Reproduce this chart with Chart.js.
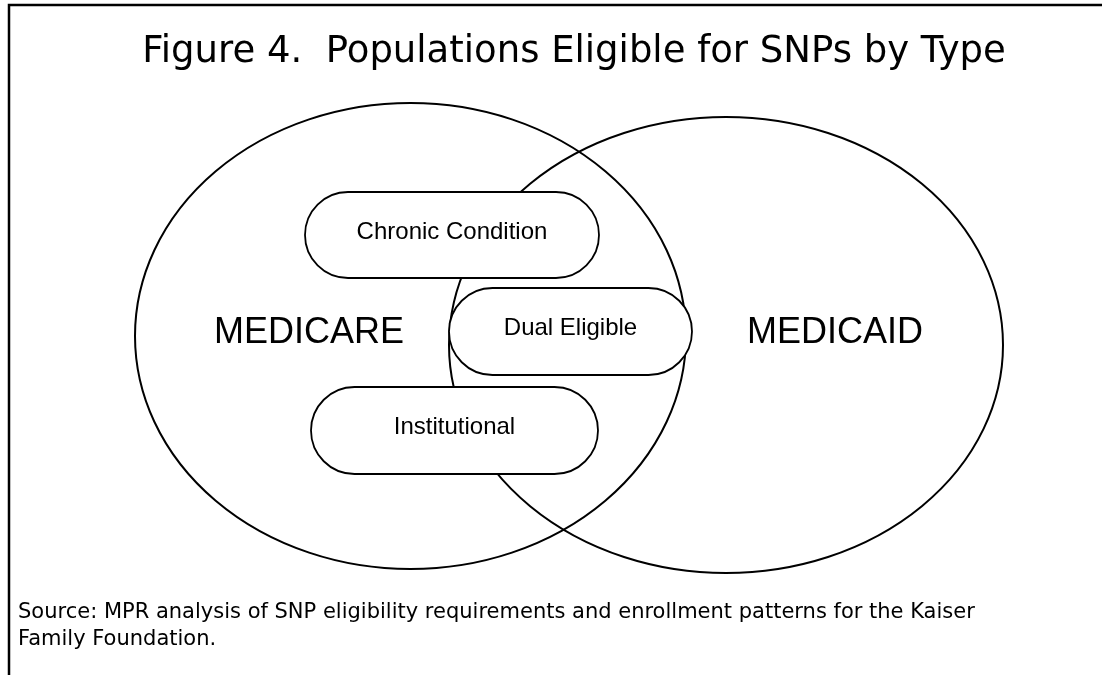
<!DOCTYPE html>
<html lang="en">
<head>
<meta charset="UTF-8">
<meta name="viewport" content="width=device-width, initial-scale=1.0">
<title>Figure 4. Populations Eligible for SNPs by Type</title>
<script src="https://cdn.jsdelivr.net/npm/chart.js"></script>
<style>
    html, body { margin: 0; padding: 0; background: #fff; }
    #wrap { width: 1102px; height: 675px; }
</style>
</head>
<body>
<div id="wrap"><canvas id="venn"></canvas></div>
<script>
// the two populations (ellipses), in units of the hidden x/y axes
const setNames = ['MEDICARE', 'MEDICAID'];
const setCenterX = [410.5, 726];
const setCenterY = [336, 345];
const setRadiusX = [275.5, 277];
const setRadiusY = [233, 228];
const setLabelX = [309, 835];
const setLabelY = [333, 333];

// SNP types (rounded boxes)
const snpTypes = ['Chronic Condition', 'Dual Eligible', 'Institutional'];
const boxLeft = [305, 449, 311];
const boxRight = [599, 692, 598];
const boxTop = [192, 288, 387];
const boxBottom = [278, 375, 474];

const titleText = 'Figure 4.  Populations Eligible for SNPs by Type';
const sourceLines = [
    'Source: MPR analysis of SNP eligibility requirements and enrollment patterns for the Kaiser',
    'Family Foundation.'
];

// draws the whole figure through the chart's scales
const vennPlugin = {
    id: 'venn',
    afterDraw(chart) {
        const ctx = chart.ctx;
        const sx = chart.scales.x, sy = chart.scales.y;
        const px = v => sx.getPixelForValue(v);
        const py = v => sy.getPixelForValue(v);

        ctx.save();
        ctx.strokeStyle = '#000';
        ctx.fillStyle = '#000';

        // frame (top and left only)
        ctx.lineWidth = 2.5;
        ctx.beginPath();
        ctx.moveTo(px(9), py(675));
        ctx.lineTo(px(9), py(5));
        ctx.lineTo(px(1102), py(5));
        ctx.stroke();

        // title
        ctx.font = '37px "DejaVu Sans"';
        ctx.textAlign = 'center';
        ctx.textBaseline = 'alphabetic';
        ctx.fillText(titleText, px(574), py(62));

        // ellipses
        ctx.lineWidth = 2;
        setNames.forEach((name, i) => {
            const cx = px(setCenterX[i]), cy = py(setCenterY[i]);
            const rx = Math.abs(px(setCenterX[i] + setRadiusX[i]) - cx);
            const ry = Math.abs(py(setCenterY[i] + setRadiusY[i]) - cy);
            ctx.beginPath();
            ctx.ellipse(cx, cy, rx, ry, 0, 0, Math.PI * 2);
            ctx.stroke();
        });

        ctx.font = '36px "Liberation Sans", Arial';
        ctx.textBaseline = 'middle';
        setNames.forEach((name, i) => {
            ctx.fillText(name, px(setLabelX[i]), py(setLabelY[i]));
        });

        // rounded boxes
        ctx.lineWidth = 1.8;
        snpTypes.forEach((name, i) => {
            const x0 = px(boxLeft[i]), x1 = px(boxRight[i]);
            const y0 = py(boxTop[i]), y1 = py(boxBottom[i]);
            const r = (y1 - y0) / 2;
            ctx.beginPath();
            ctx.moveTo(x0 + r, y0);
            ctx.lineTo(x1 - r, y0);
            ctx.arc(x1 - r, y0 + r, r, -Math.PI / 2, Math.PI / 2);
            ctx.lineTo(x0 + r, y1);
            ctx.arc(x0 + r, y0 + r, r, Math.PI / 2, Math.PI * 1.5);
            ctx.closePath();
            ctx.fillStyle = '#fff';
            ctx.fill();
            ctx.stroke();
            ctx.fillStyle = '#000';
            ctx.font = '24px "Liberation Sans", Arial';
            ctx.fillText(name, (x0 + x1) / 2, (y0 + y1) / 2 - 3);
        });

        // source note
        ctx.font = '21px "DejaVu Sans"';
        ctx.textAlign = 'left';
        ctx.textBaseline = 'alphabetic';
        sourceLines.forEach((line, i) => {
            ctx.fillText(line, px(18), py(618 + i * 27));
        });

        ctx.restore();
    }
};

new Chart(document.getElementById('venn'), {
    type: 'scatter',
    data: { datasets: [] },
    options: {
        responsive: true,
        maintainAspectRatio: false,
        animation: false,
        layout: { padding: 0 },
        scales: {
            x: { type: 'linear', min: 0, max: 1102, display: false },
            y: { type: 'linear', min: 0, max: 675, reverse: true, display: false }
        },
        plugins: {
            legend: { display: false },
            tooltip: { enabled: false }
        }
    },
    plugins: [vennPlugin]
});
</script>
</body>
</html>
